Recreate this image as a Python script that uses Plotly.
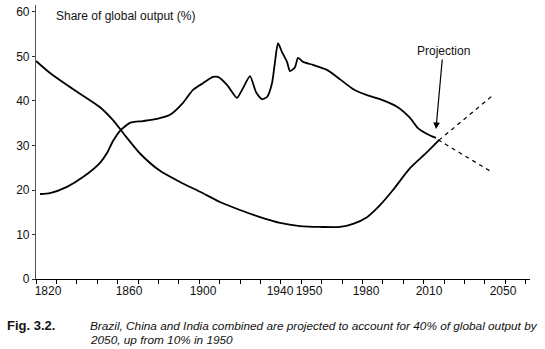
import plotly.graph_objects as go

# Horizontal positions are on the chart's own (uneven) timeline scale
tick_pos = [12, 93, 167, 244, 273, 330, 393, 467]
tick_labels = ["1820", "1860", "1900", "1940", "1950", "1980", "2010", "2050"]

# Brazil, China and India combined (share of global output, %)
bci_x = [0, 14, 31, 47, 64, 77, 90, 104, 124, 144, 164, 184, 204, 224, 244,
         264, 284, 304, 317, 331, 344, 357, 374, 391, 403]
bci_y = [49.0, 46.3, 43.6, 41.2, 38.6, 35.7, 32.0, 28.2, 24.3, 21.8, 19.6,
         17.3, 15.5, 13.9, 12.6, 11.9, 11.7, 11.7, 12.4, 13.9, 16.6, 20.0, 24.9,
         28.5, 31.2]
bci_proj_x = [403, 457]
bci_proj_y = [31.2, 41.3]

# Other economies (share of global output, %)
oth_x = [4, 14, 31, 47, 64, 71, 77, 84, 94, 107, 121, 134, 147, 157, 167, 177,
         182, 191, 201, 207, 214, 220, 226, 231, 236, 239, 242, 246, 251, 254,
         259, 262, 267, 277, 291, 301, 317, 331, 344, 361, 374, 382, 391, 400]
oth_y = [19.1, 19.3, 20.7, 22.9, 26.1, 28.3, 31.0, 33.3, 35.1, 35.5, 36.0, 36.9,
         39.6, 42.5, 44.0, 45.4, 45.4, 43.6, 40.7, 42.9, 45.6, 42.0, 40.4, 40.9,
         44.0, 48.8, 53.0, 51.0, 48.8, 46.7, 47.6, 49.7, 48.8, 48.1, 47.0, 45.4,
         42.7, 41.3, 40.4, 38.7, 36.2, 33.9, 32.6, 31.7]
oth_proj_x = [402, 456]
oth_proj_y = [31.3, 24.0]

y_ticks = [0, 10, 20, 30, 40, 50, 60]

FONT = "Liberation Sans, Arial, sans-serif"
INK = "#111111"

fig = go.Figure()
fig.add_trace(go.Scatter(x=bci_x, y=bci_y, mode="lines",
                         line=dict(color="black", width=1.8, shape="spline", smoothing=0.7),
                         showlegend=False, hoverinfo="skip"))
fig.add_trace(go.Scatter(x=oth_x, y=oth_y, mode="lines",
                         line=dict(color="black", width=1.8, shape="spline", smoothing=0.6),
                         showlegend=False, hoverinfo="skip"))
fig.add_trace(go.Scatter(x=bci_proj_x, y=bci_proj_y, mode="lines",
                         line=dict(color="black", width=1.2, dash="4px,4px"),
                         showlegend=False, hoverinfo="skip"))
fig.add_trace(go.Scatter(x=oth_proj_x, y=oth_proj_y, mode="lines",
                         line=dict(color="black", width=1.2, dash="4px,4px"),
                         showlegend=False, hoverinfo="skip"))

fig.update_layout(
    width=545, height=349,
    margin=dict(l=36, r=15, t=5, b=70),
    paper_bgcolor="white", plot_bgcolor="white",
    font=dict(family=FONT, size=12, color=INK),
    xaxis=dict(range=[0, 494], showgrid=False, zeroline=False,
               showline=True, linecolor="black", linewidth=1.3,
               tickmode="array", tickvals=tick_pos, ticktext=tick_labels,
               ticks="", tickangle=0, tickfont=dict(size=12, color=INK),
               minor=dict(tickmode="linear", tick0=0, dtick=20.4, ticks="outside",
                          ticklen=4, tickwidth=1, tickcolor="black", showgrid=False)),
    yaxis=dict(range=[0, 61.57], showgrid=False, zeroline=False,
               showline=True, linecolor="#555555", linewidth=1.2,
               tickmode="array", tickvals=y_ticks,
               ticks="outside", ticklen=3, tickcolor="#333333",
               tickfont=dict(size=12, color=INK)),
)

fig.add_annotation(xref="paper", yref="paper", x=0.0364, y=0.9599,
                   text="Share of global output (%)", showarrow=False,
                   xanchor="left", yanchor="middle", font=dict(size=12, color=INK))

fig.add_annotation(x=400, y=33.7, xref="x", yref="y",
                   text="Projection", showarrow=True,
                   ax=7, ay=-78, arrowhead=2, arrowsize=1.1, arrowwidth=1.2,
                   arrowcolor="black", font=dict(size=12, color=INK))

fig.add_annotation(xref="paper", yref="paper", x=-0.0628, y=-0.1715,
                   text="<b>Fig. 3.2.</b>", showarrow=False,
                   xanchor="left", yanchor="middle", font=dict(size=13, color=INK))
fig.add_annotation(xref="paper", yref="paper", x=0.1053, y=-0.1715,
                   text="<i>Brazil, China and India combined are projected to account for 40% of global output by</i>",
                   showarrow=False, xanchor="left", yanchor="middle",
                   font=dict(size=11.8, color=INK))
fig.add_annotation(xref="paper", yref="paper", x=0.1053, y=-0.2226,
                   text="<i>2050, up from 10% in 1950</i>",
                   showarrow=False, xanchor="left", yanchor="middle",
                   font=dict(size=11.8, color=INK))

fig.write_html("out.html")
